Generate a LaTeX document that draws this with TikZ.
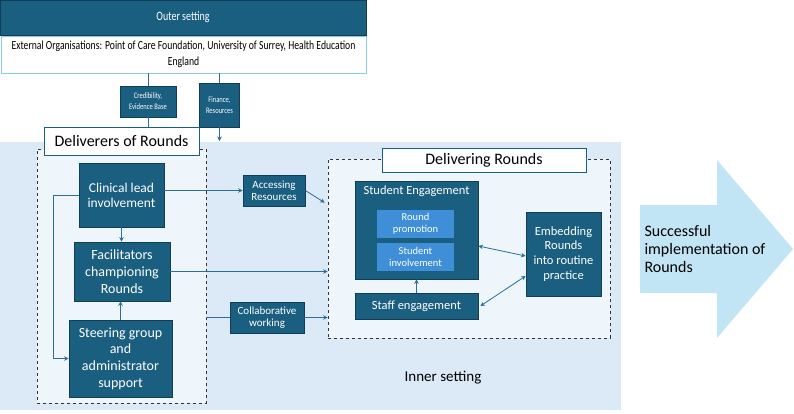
\documentclass[tikz,border=0pt]{standalone}
\usepackage{fontspec}
\setmainfont{Carlito}
\newfontfamily\narrowfont[FakeStretch=0.78]{Carlito}
\usepackage{tikz}
\usetikzlibrary{arrows.meta,positioning,calc}
\definecolor{teal1}{HTML}{1A5E80}
\definecolor{teal2}{HTML}{0F3F58}
\definecolor{linkc}{HTML}{2A6F97}
\definecolor{innerbg}{HTML}{DCE9F6}
\definecolor{dashbg}{HTML}{EEF5FB}
\definecolor{subbox}{HTML}{3F8ED8}
\definecolor{bigarr}{HTML}{C2E5F5}
\definecolor{lbord}{HTML}{8CCBE6}
\newcommand{\fs}[2]{\fontsize{#1}{#2}\selectfont}

\begin{document}
\begin{tikzpicture}[x=1pt,y=-1pt,>={Stealth[length=4.5pt,width=4.5pt]},
  dbox/.style={draw=teal2,line width=0.8pt,fill=teal1,text=white,align=center,inner sep=1pt},
  lbl/.style={draw=teal1,line width=0.8pt,fill=white,inner sep=0pt},
  dashbox/.style={draw=black!80,dashed,line width=0.7pt,fill=dashbg,inner sep=0pt},
  link/.style={draw=linkc,line width=0.8pt}]
\useasboundingbox (0,0) rectangle (794,413);
% outer setting
\node[dbox,minimum width=366,minimum height=35,font=\narrowfont\fs{12.8}{14}] (outer) at (183,17.5) {Outer setting};
\node[draw=lbord,line width=0.8pt,fill=white,align=center,minimum width=365,minimum height=37,font=\narrowfont\fs{12.4}{16}] (ext) at (183.5,54.5) {External Organisations: Point of Care Foundation, University of Surrey, Health Education\\England};
\node[dbox,minimum width=56,minimum height=31,font=\narrowfont\fs{8.4}{11}] (cred) at (148,101.5) {Credibility,\\Evidence Base};
\node[dbox,minimum width=40,minimum height=44,font=\narrowfont\fs{8.4}{11}] (fin) at (219.5,105) {Finance,\\Resources};
% inner setting
\fill[innerbg] (0,142) rectangle (621,410);
\node[font=\fs{15}{17}] (inner) at (443,378) {Inner setting};
\coordinate (credEnd) at (148,141);
\coordinate (finEnd) at (219.5,141);
\draw[link] (ext.south -| cred.north) -- (cred.north);
\draw[link,->] (cred.south) -- (credEnd);
\draw[link] (ext.south -| fin.north) -- (fin.north);
\draw[link,->] (fin.south) -- (finEnd);
% deliverers
\node[dashbox,minimum width=169,minimum height=254] (dlr) at (121.5,276) {};
\node[lbl,minimum width=155,minimum height=28,font=\fs{16}{18}] (dlrlbl) at (121.5,141) {Deliverers of Rounds};
\node[dbox,minimum width=85,minimum height=64,font=\fs{13.5}{15}] (clin) at (121.5,195) {Clinical lead\\involvement};
\node[dbox,minimum width=96,minimum height=59,font=\fs{14}{16.7}] (fac) at (122,271.5) {Facilitators\\championing\\Rounds};
\node[dbox,minimum width=103,minimum height=77,font=\fs{14}{16.7}] (steer) at (120.5,358.5) {Steering group\\and\\administrator\\support};
\draw[link,->] (clin.south) -- (clin.south |- fac.north);
\draw[link,->] (steer.north) -- (steer.north |- fac.south);
\draw[link,->] (clin.west) -- ++(-25,0) |- (steer.west);
% delivering
\node[dashbox,minimum width=282,minimum height=179] (delv) at (469,248.5) {};
\node[lbl,minimum width=204,minimum height=24,font=\fs{16}{18}] (delvlbl) at (484,160) {Delivering Rounds};
\node[dbox,minimum width=123,minimum height=98,label={[anchor=north,text=white,font=\fs{12.5}{14},yshift=-2pt]north:Student Engagement}] (stu) at (416.5,230) {};
\node[fill=subbox,text=white,align=center,minimum width=77,minimum height=28,inner sep=0pt,font=\fs{10.5}{12}] (promo) at (415.5,224) {Round\\promotion};
\node[fill=subbox,text=white,align=center,minimum width=77,minimum height=28,inner sep=0pt,font=\fs{10.5}{12}] (invol) at (415.5,257) {Student\\involvement};
\node[dbox,minimum width=123,minimum height=26,font=\fs{12.5}{14}] (staff) at (416.5,306) {Staff engagement};
\node[dbox,minimum width=75,minimum height=84,font=\fs{12.5}{14.7}] (emb) at (563.5,254) {Embedding\\Rounds\\into routine\\practice};
\draw[link,->] (staff.north) -- (stu.south);
\draw[link,<->] ([yshift=-16pt]stu.east) -- ([yshift=-2pt]emb.west);
\draw[link,<->] ([xshift=2pt]staff.east) -- ([yshift=-22pt]emb.west);
% between the two groups
\node[dbox,minimum width=62,minimum height=31,font=\fs{11}{12}] (acc) at (274,190.5) {Accessing\\Resources};
\node[dbox,minimum width=74,minimum height=31,font=\fs{11}{12}] (collab) at (267,317.5) {Collaborative\\working};
\draw[link,->] (clin.east |- acc.west) -- (acc.west);
\draw[link,->] (acc.east) -- ($(delv.north west)+(-3,44)$);
\draw[link,->] (fac.east) -- (fac.east -| delv.west);
\draw[link] (dlr.east |- collab.west) -- (collab.west);
\draw[link,->] (collab.east) -- (collab.east -| delv.west);
% outcome
\fill[bigarr] (640,205) -- (717,205) -- (717,160) -- (793,249) -- (717,338) -- (717,293) -- (640,293) -- cycle;
\node[anchor=west,align=left,font=\fs{16}{18}] (out) at (641,249) {Successful\\implementation of\\Rounds};
\end{tikzpicture}
\end{document}
